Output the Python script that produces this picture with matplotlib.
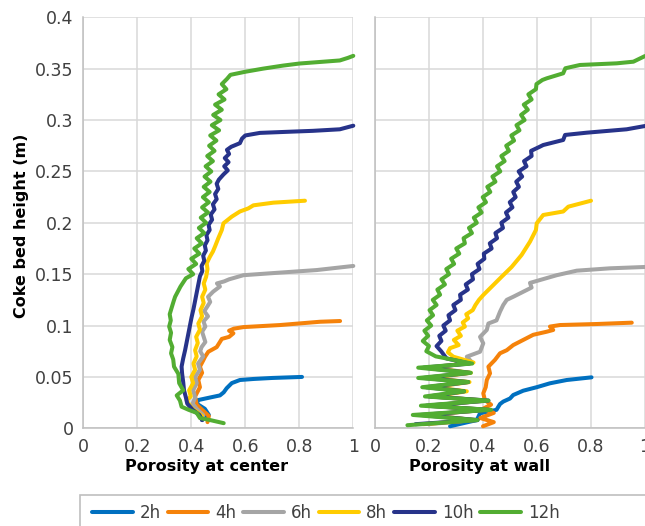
import numpy as np
import matplotlib
matplotlib.use("Agg")
import matplotlib.pyplot as plt
from matplotlib.patches import Rectangle

# series labels and colours
labels = ["2h", "4h", "6h", "8h", "10h", "12h"]
colors = ["#0070c0", "#f5820a", "#a5a5a5", "#ffcc00", "#27338a", "#52ad32"]

y_ticks = [0, 0.05, 0.1, 0.15, 0.2, 0.25, 0.3, 0.35, 0.4]
y_tick_labels = ["0", "0.05", "0.1", "0.15", "0.2", "0.25", "0.3", "0.35", "0.4"]
x_ticks = [0, 0.2, 0.4, 0.6, 0.8, 1.0]
x_tick_labels = ["0", "0.2", "0.4", "0.6", "0.8", "1"]

# porosity at center: (porosity, height)
center_2h = [(0.44, 0.008), (0.465, 0.013), (0.45, 0.019), (0.42, 0.024), (0.426, 0.0275),
             (0.47, 0.030), (0.506, 0.032), (0.52, 0.035), (0.531, 0.039), (0.55, 0.044),
             (0.58, 0.047), (0.63, 0.048), (0.70, 0.049), (0.81, 0.050)]

center_4h = [(0.46, 0.006), (0.465, 0.012), (0.44, 0.018), (0.42, 0.023), (0.414, 0.031),
             (0.432, 0.040), (0.426, 0.047), (0.44, 0.054), (0.432, 0.060), (0.444, 0.066),
             (0.451, 0.0697), (0.463, 0.0745), (0.494, 0.079), (0.506, 0.084), (0.513, 0.087),
             (0.54, 0.089), (0.556, 0.0925), (0.54, 0.095), (0.558, 0.097), (0.593, 0.0985),
             (0.729, 0.1005), (0.877, 0.1037), (0.951, 0.1044)]

center_6h = [(0.44, 0.008), (0.444, 0.013), (0.42, 0.019), (0.405, 0.024), (0.414, 0.030),
             (0.407, 0.037), (0.420, 0.044), (0.414, 0.050), (0.432, 0.057), (0.425, 0.063),
             (0.444, 0.070), (0.433, 0.075), (0.438, 0.079), (0.452, 0.084), (0.446, 0.089),
             (0.440, 0.094), (0.452, 0.099), (0.445, 0.104), (0.462, 0.109), (0.448, 0.114),
             (0.458, 0.118), (0.470, 0.123), (0.462, 0.128), (0.481, 0.133), (0.506, 0.138),
             (0.495, 0.141), (0.522, 0.143), (0.54, 0.145), (0.593, 0.149), (0.70, 0.151),
             (0.864, 0.154), (1.0, 0.158)]

center_8h = [(0.44, 0.012), (0.40, 0.020), (0.383, 0.027), (0.398, 0.031), (0.392, 0.037),
             (0.407, 0.044), (0.40, 0.050), (0.414, 0.057), (0.408, 0.063), (0.42, 0.070),
             (0.414, 0.076), (0.424, 0.083), (0.418, 0.089), (0.432, 0.096), (0.426, 0.102),
             (0.440, 0.109), (0.434, 0.115), (0.446, 0.122), (0.440, 0.128), (0.452, 0.135),
             (0.446, 0.141), (0.455, 0.1475), (0.46, 0.155), (0.457, 0.1606), (0.469, 0.167),
             (0.48, 0.172), (0.488, 0.177), (0.50, 0.185), (0.513, 0.193), (0.519, 0.1995),
             (0.55, 0.206), (0.58, 0.211), (0.611, 0.214), (0.63, 0.217), (0.704, 0.2196),
             (0.821, 0.2215)]

center_10h = [(0.44, 0.008), (0.43, 0.013), (0.405, 0.018), (0.385, 0.024), (0.38, 0.030),
              (0.373, 0.037), (0.37, 0.045), (0.366, 0.053), (0.364, 0.060), (0.370, 0.068),
              (0.377, 0.076), (0.383, 0.084), (0.389, 0.092), (0.395, 0.100), (0.401, 0.108),
              (0.408, 0.116), (0.414, 0.124), (0.420, 0.132), (0.426, 0.140), (0.432, 0.148),
              (0.441, 0.153), (0.438, 0.158), (0.448, 0.163), (0.444, 0.168), (0.454, 0.173),
              (0.450, 0.178), (0.460, 0.183), (0.456, 0.188), (0.468, 0.193), (0.464, 0.198),
              (0.477, 0.203), (0.472, 0.208), (0.486, 0.213), (0.480, 0.218), (0.494, 0.223),
              (0.488, 0.228), (0.500, 0.233), (0.494, 0.238), (0.502, 0.242), (0.519, 0.247),
              (0.535, 0.251), (0.522, 0.255), (0.538, 0.259), (0.524, 0.263), (0.540, 0.267),
              (0.532, 0.271), (0.548, 0.274), (0.58, 0.2775), (0.588, 0.282), (0.60, 0.285),
              (0.654, 0.2875), (0.75, 0.2885), (0.85, 0.2895), (0.95, 0.291), (1.0, 0.2945)]

center_12h = [(0.52, 0.005), (0.47, 0.008), (0.432, 0.010), (0.42, 0.015), (0.39, 0.018),
              (0.364, 0.021), (0.358, 0.027), (0.346, 0.032), (0.37, 0.037), (0.355, 0.044),
              (0.352, 0.053), (0.336, 0.060), (0.333, 0.067), (0.325, 0.073), (0.33, 0.079),
              (0.32, 0.086), (0.325, 0.093), (0.318, 0.099), (0.324, 0.105), (0.32, 0.111),
              (0.328, 0.118), (0.335, 0.124), (0.34, 0.128), (0.352, 0.134), (0.36, 0.138),
              (0.38, 0.146), (0.407, 0.150), (0.389, 0.155), (0.418, 0.160), (0.400, 0.165),
              (0.430, 0.170), (0.411, 0.175), (0.439, 0.180), (0.420, 0.185), (0.448, 0.190),
              (0.428, 0.195), (0.455, 0.200), (0.435, 0.205), (0.462, 0.210), (0.440, 0.215),
              (0.465, 0.220), (0.443, 0.225), (0.468, 0.230), (0.446, 0.235), (0.471, 0.240),
              (0.449, 0.245), (0.474, 0.250), (0.453, 0.255), (0.480, 0.260), (0.459, 0.265),
              (0.486, 0.270), (0.466, 0.275), (0.493, 0.280), (0.470, 0.285), (0.503, 0.290),
              (0.476, 0.295), (0.508, 0.300), (0.481, 0.305), (0.513, 0.310), (0.488, 0.315),
              (0.523, 0.320), (0.501, 0.325), (0.530, 0.330), (0.513, 0.335), (0.532, 0.340),
              (0.545, 0.344), (0.60, 0.347), (0.665, 0.350), (0.74, 0.353), (0.80, 0.355),
              (0.90, 0.357), (0.95, 0.358), (0.98, 0.3605), (1.0, 0.3625)]

# porosity at wall: (porosity, height)
wall_2h = [(0.278, 0.002), (0.377, 0.008), (0.389, 0.0146), (0.45, 0.018), (0.463, 0.0236),
           (0.475, 0.026), (0.50, 0.029), (0.512, 0.0324), (0.549, 0.0366), (0.599, 0.040),
           (0.648, 0.0438), (0.71, 0.047), (0.802, 0.0496)]

wall_4h = [(0.40, 0.002), (0.44, 0.006), (0.39, 0.010), (0.44, 0.015), (0.40, 0.019),
           (0.43, 0.023), (0.407, 0.0275), (0.401, 0.034), (0.41, 0.040), (0.414, 0.047),
           (0.426, 0.0535), (0.42, 0.060), (0.444, 0.0665), (0.463, 0.073), (0.488, 0.076),
           (0.512, 0.081), (0.549, 0.086), (0.586, 0.091), (0.636, 0.094), (0.66, 0.0957),
           (0.648, 0.099), (0.685, 0.1005), (0.821, 0.1015), (0.951, 0.1028)]

wall_6h = [(0.20, 0.004), (0.36, 0.008), (0.20, 0.013), (0.40, 0.018), (0.21, 0.022),
           (0.40, 0.027), (0.22, 0.031), (0.33, 0.036), (0.22, 0.040), (0.34, 0.045),
           (0.21, 0.049), (0.35, 0.054), (0.22, 0.059), (0.36, 0.064), (0.34, 0.0697),
           (0.389, 0.0745), (0.401, 0.0827), (0.389, 0.089), (0.414, 0.0957), (0.42, 0.102),
           (0.45, 0.105), (0.463, 0.1135), (0.475, 0.120), (0.488, 0.125), (0.512, 0.128),
           (0.562, 0.1346), (0.58, 0.137), (0.574, 0.1415), (0.611, 0.1443), (0.673, 0.149),
           (0.747, 0.1534), (0.87, 0.1557), (1.0, 0.157)]

wall_8h = [(0.18, 0.004), (0.37, 0.008), (0.19, 0.013), (0.41, 0.018), (0.20, 0.022),
           (0.41, 0.027), (0.21, 0.031), (0.34, 0.036), (0.21, 0.040), (0.35, 0.045),
           (0.20, 0.049), (0.355, 0.054), (0.20, 0.059), (0.365, 0.064), (0.29, 0.0697),
           (0.27, 0.074), (0.278, 0.078), (0.31, 0.081), (0.292, 0.086), (0.318, 0.090),
           (0.305, 0.095), (0.333, 0.099), (0.325, 0.103), (0.345, 0.107), (0.338, 0.111),
           (0.362, 0.115), (0.372, 0.120), (0.385, 0.125), (0.401, 0.1297), (0.432, 0.1378),
           (0.469, 0.1475), (0.506, 0.157), (0.543, 0.1687), (0.574, 0.1816), (0.596, 0.193),
           (0.599, 0.1995), (0.623, 0.2076), (0.697, 0.211), (0.716, 0.2157), (0.80, 0.2215)]

wall_10h = [(0.15, 0.004), (0.38, 0.008), (0.17, 0.013), (0.42, 0.018), (0.19, 0.022),
            (0.42, 0.027), (0.20, 0.031), (0.33, 0.036), (0.19, 0.040), (0.345, 0.045),
            (0.18, 0.049), (0.35, 0.054), (0.18, 0.059), (0.35, 0.063), (0.265, 0.068),
            (0.245, 0.075), (0.228, 0.080), (0.246, 0.085), (0.238, 0.090), (0.262, 0.095),
            (0.253, 0.100), (0.278, 0.105), (0.272, 0.110), (0.298, 0.115), (0.290, 0.120),
            (0.318, 0.125), (0.315, 0.130), (0.344, 0.135), (0.336, 0.140), (0.363, 0.145),
            (0.359, 0.150), (0.387, 0.155), (0.380, 0.160), (0.405, 0.165), (0.403, 0.170),
            (0.432, 0.175), (0.425, 0.180), (0.452, 0.185), (0.446, 0.190), (0.474, 0.195),
            (0.468, 0.200), (0.494, 0.205), (0.485, 0.210), (0.509, 0.215), (0.499, 0.220),
            (0.521, 0.225), (0.512, 0.230), (0.533, 0.235), (0.523, 0.240), (0.545, 0.245),
            (0.532, 0.250), (0.561, 0.255), (0.552, 0.260), (0.58, 0.265), (0.578, 0.270),
            (0.61, 0.274), (0.623, 0.2757), (0.697, 0.2806), (0.704, 0.2855), (0.784, 0.2877),
            (0.932, 0.291), (1.0, 0.2942)]

wall_12h = [(0.12, 0.003), (0.38, 0.008), (0.14, 0.013), (0.43, 0.018), (0.17, 0.022),
            (0.42, 0.027), (0.185, 0.031), (0.33, 0.036), (0.175, 0.040), (0.345, 0.045),
            (0.16, 0.049), (0.355, 0.054), (0.16, 0.059), (0.36, 0.063), (0.225, 0.070),
            (0.190, 0.075), (0.200, 0.080), (0.177, 0.085), (0.197, 0.090), (0.183, 0.095),
            (0.208, 0.100), (0.192, 0.105), (0.215, 0.110), (0.202, 0.115), (0.228, 0.120),
            (0.214, 0.125), (0.241, 0.130), (0.231, 0.135), (0.259, 0.140), (0.246, 0.145),
            (0.274, 0.150), (0.264, 0.155), (0.293, 0.160), (0.282, 0.165), (0.312, 0.170),
            (0.301, 0.175), (0.333, 0.180), (0.328, 0.185), (0.359, 0.190), (0.348, 0.195),
            (0.377, 0.200), (0.366, 0.205), (0.395, 0.210), (0.383, 0.215), (0.411, 0.220),
            (0.399, 0.225), (0.427, 0.230), (0.416, 0.235), (0.446, 0.240), (0.435, 0.245),
            (0.464, 0.250), (0.452, 0.255), (0.480, 0.260), (0.468, 0.265), (0.496, 0.270),
            (0.486, 0.275), (0.515, 0.280), (0.505, 0.285), (0.535, 0.290), (0.524, 0.295),
            (0.554, 0.300), (0.541, 0.305), (0.566, 0.310), (0.551, 0.315), (0.580, 0.320),
            (0.568, 0.325), (0.596, 0.330), (0.598, 0.335), (0.62, 0.339), (0.636, 0.3406),
            (0.697, 0.3455), (0.705, 0.3504), (0.759, 0.3536), (0.895, 0.3552),
            (0.957, 0.3568), (1.0, 0.3623)]

center_series = [center_2h, center_4h, center_6h, center_8h, center_10h, center_12h]
wall_series = [wall_2h, wall_4h, wall_6h, wall_8h, wall_10h, wall_12h]

plt.rcParams['font.family'] = ['DejaVu Sans']

fig = plt.figure(figsize=(6.45, 5.26), dpi=100)
ax1 = fig.add_axes([83.3 / 645, 97.7 / 526, 270 / 645, 411 / 526])
ax2 = fig.add_axes([375 / 645, 97.7 / 526, 270 / 645, 411 / 526])

for ax, series in [(ax1, center_series), (ax2, wall_series)]:
    for pts, lab, col in zip(series, labels, colors):
        arr = np.array(pts)
        ax.plot(arr[:, 0], arr[:, 1], color=col, lw=2.9, label=lab,
                solid_joinstyle='round', solid_capstyle='round', clip_on=False, zorder=3)
    ax.set_xlim(0, 1)
    ax.set_ylim(0, 0.4)
    ax.set_xticks(x_ticks)
    ax.set_xticklabels(x_tick_labels)
    ax.set_yticks(y_ticks)
    ax.grid(True, color='#d9d9d9', lw=1.1, zorder=0)
    ax.set_axisbelow(True)
    for s in ['top', 'right']:
        ax.spines[s].set_visible(False)
    for s in ['left', 'bottom']:
        ax.spines[s].set_color('#bfbfbf')
        ax.spines[s].set_linewidth(1.1)
    ax.tick_params(length=0, labelsize=12.5, colors='#404040', pad=7)

ax1.set_yticklabels(y_tick_labels)
ax2.set_yticklabels([])

fig.text(207 / 645, 1 - 466 / 526, "Porosity at center", ha='center', va='center',
         fontsize=11.5, fontweight='bold')
fig.text(480 / 645, 1 - 466 / 526, "Porosity at wall", ha='center', va='center',
         fontsize=11.5, fontweight='bold')
fig.text(22 / 645, 1 - 226 / 526, "Coke bed height (m)", ha='center', va='center',
         rotation=90, fontsize=11.5, fontweight='bold')

# legend box running off the right and bottom edges
fig.patches.append(Rectangle((80 / 645, -0.05), 1.0, 1 - 495 / 526 + 0.05,
                             transform=fig.transFigure, fill=False,
                             edgecolor='#bfbfbf', lw=1.2))
handles, labs = ax1.get_legend_handles_labels()
fig.legend(handles, labs, loc='center left', bbox_to_anchor=(92 / 645, 1 - 513 / 526),
           ncol=6, frameon=False, fontsize=12, handlelength=2.45, handletextpad=0.4,
           columnspacing=0.42, borderaxespad=0, borderpad=0, labelcolor='#404040')

fig.savefig("out.png", dpi=100)
